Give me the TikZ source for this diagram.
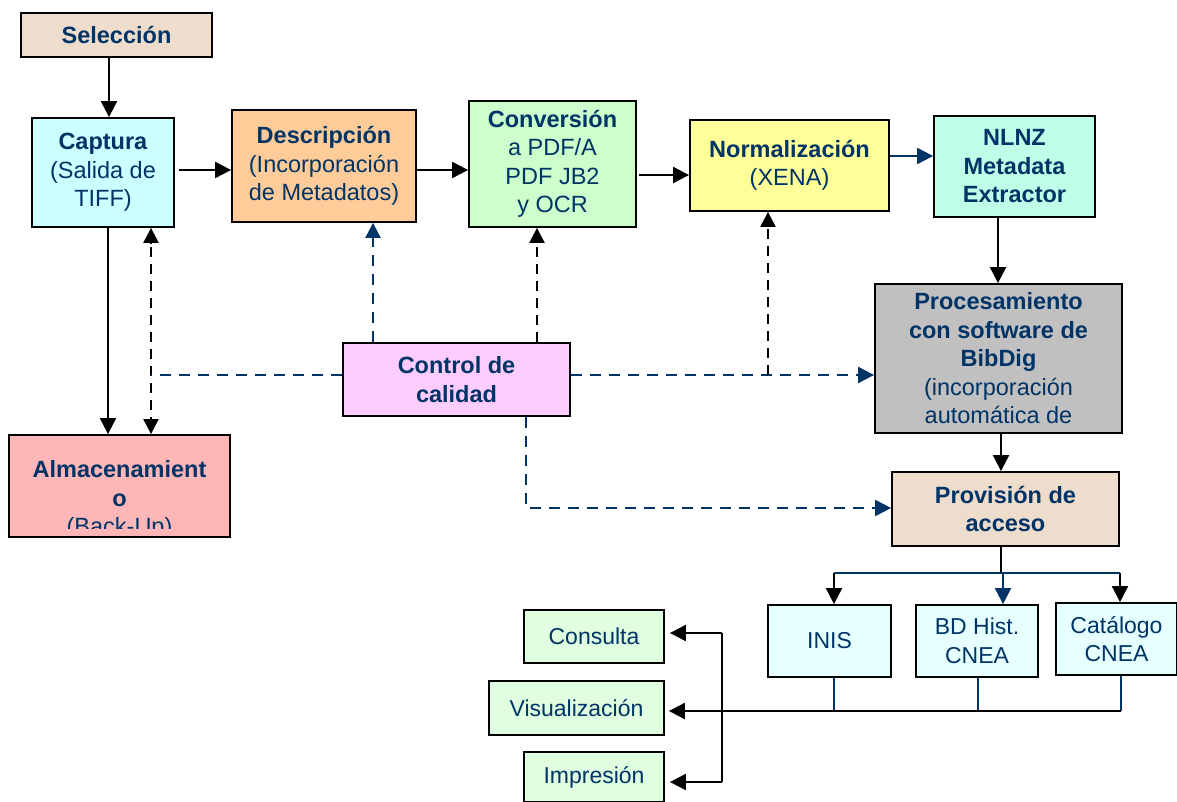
\documentclass[tikz,border=0pt]{standalone}
\usepackage{fontspec}
\setmainfont{Liberation Sans}
\usetikzlibrary{arrows.meta}
\definecolor{navy}{RGB}{0,51,102}
\definecolor{cSel}{RGB}{238,220,204}
\definecolor{cCapt}{RGB}{204,255,255}
\definecolor{cDesc}{RGB}{255,204,153}
\definecolor{cConv}{RGB}{204,255,204}
\definecolor{cNorm}{RGB}{255,255,153}
\definecolor{cNlnz}{RGB}{190,255,232}
\definecolor{cProc}{RGB}{192,192,192}
\definecolor{cCtrl}{RGB}{255,204,255}
\definecolor{cAlm}{RGB}{255,182,182}
\definecolor{cDb}{RGB}{230,255,255}
\definecolor{cOut}{RGB}{224,255,224}
\tikzset{
  box/.style={draw=black, line width=1.8pt, inner sep=0pt, align=center, text=navy,
    font=\fontsize{23.5}{28.5}\selectfont},
  smallbox/.style={box, font=\fontsize{23}{28.5}\selectfont},
  conn/.style={line width=2pt, -{Triangle[length=16pt,width=16pt]}},
  nconn/.style={conn, draw=navy, fill=navy},
  ndash/.style={line width=2pt, draw=navy, dash pattern=on 11pt off 8pt},
  kdash/.style={line width=2.2pt, draw=black, dash pattern=on 10pt off 7pt},
  thin/.style={line width=1.3pt, draw=navy},
  tip/.style={-{Triangle[length=15pt,width=15pt]}},
}
\begin{document}
\begin{tikzpicture}[x=1pt,y=-1pt]
\useasboundingbox (0,0) rectangle (1177,802);
\fill[white] (0,0) rectangle (1177,802);

% main boxes
\node[box, fill=cSel, minimum width=191pt, minimum height=44pt] (sel) at (116.5,35) {\textbf{Selección}};
\node[box, fill=cCapt, minimum width=142pt, minimum height=109pt] (capt) at (103,172.5) {\textbf{Captura}\\(Salida de\\TIFF)};
\node[box, fill=cDesc, minimum width=184pt, minimum height=112pt] (desc) at (324,166) {\textbf{Descripción}\\(Incorporación\\de Metadatos)};
\node[box, fill=cConv, minimum width=167pt, minimum height=126pt] (conv) at (552.5,164) {\textbf{Conversión}\\a PDF/A\\PDF JB2\\y OCR};
\node[box, fill=cNorm, minimum width=199pt, minimum height=91pt] (norm) at (789.5,165.5) {\textbf{Normalización}\\(XENA)};
\node[box, fill=cNlnz, minimum width=161pt, minimum height=101pt] (nlnz) at (1014.5,166.5) {\textbf{NLNZ}\\\textbf{Metadata}\\\textbf{Extractor}};
\node[box, fill=cProc, minimum width=247pt, minimum height=149pt] (proc) at (998.5,358.5) {\textbf{Procesamiento}\\\textbf{con software de}\\\textbf{BibDig}\\(incorporación\\automática de};
\node[box, fill=cCtrl, minimum width=227pt, minimum height=73pt] (ctrl) at (456.5,379.5) {\textbf{Control de}\\\textbf{calidad}};
\node[box, fill=cAlm, minimum width=221pt, minimum height=102pt] (alm) at (119.5,486) {};
\begin{scope}
  \clip (alm.north west) rectangle ([yshift=9pt]alm.south east);
  \node[box, draw=none, fill=none] (almtext) at (119.5,500) {\textbf{Almacenamient}\\\textbf{o}\\(Back-Up)};
\end{scope}
\node[box, fill=cSel, minimum width=227pt, minimum height=74pt] (prov) at (1005.5,509) {\textbf{Provisión de}\\\textbf{acceso}};

% outputs
\node[smallbox, fill=cDb, minimum width=123pt, minimum height=72pt] (inis) at (829.5,641) {INIS};
\node[smallbox, fill=cDb, minimum width=122pt, minimum height=72pt] (bdh) at (977,641) {BD Hist.\\CNEA};
\node[smallbox, fill=cDb, minimum width=121pt, minimum height=72pt] (cat) at (1116.5,639) {Catálogo\\CNEA};
\node[smallbox, fill=cOut, minimum width=140pt, minimum height=53pt] (cons) at (594,636.5) {Consulta};
\node[smallbox, fill=cOut, minimum width=175pt, minimum height=54pt] (vis) at (576.5,708) {Visualización};
\node[smallbox, fill=cOut, minimum width=140pt, minimum height=50pt] (imp) at (594,777) {Impresión};

% helper coordinates
\coordinate (x108) at (108,0);
\coordinate (x109) at (109,0);
\coordinate (x151) at (151,0);
\coordinate (x373) at (373,0);
\coordinate (x526) at (526,0);
\coordinate (x537) at (537,0);
\coordinate (x998) at (998,0);
\coordinate (x1001) at (1001,0);
\coordinate (y156) at (0,156);
\coordinate (y170) at (0,170);
\coordinate (y175) at (0,175);
\coordinate (y375) at (0,375);
\coordinate (y508) at (0,508);
\coordinate (j151) at (151,375);
\coordinate (j768) at (768,375);
\coordinate (busL) at (834,573);
\coordinate (busM) at (1003,573);
\coordinate (busR) at (1120,573);
\coordinate (provB) at (1001,573);
\coordinate (b834) at (834,711);
\coordinate (b978) at (978,711);
\coordinate (b1120) at (1121,711);
\coordinate (v1) at (722,633);
\coordinate (v2) at (722,782);

% main flow
\draw[conn] (sel.south -| x109) -- (capt.north -| x109);
\draw[conn] ([xshift=4pt]capt.east |- y170) -- (desc.west |- y170);
\draw[conn] (desc.east |- y170) -- (conv.west |- y170);
\draw[conn] ([xshift=2pt]conv.east |- y175) -- (norm.west |- y175);
\draw[nconn] (norm.east |- y156) -- (nlnz.west |- y156);
\draw[conn] (nlnz.south -| x998) -- (proc.north -| x998);
\draw[conn] (proc.south -| x1001) -- (prov.north -| x1001);
\draw[conn] (capt.south -| x108) -- (alm.north -| x108);

% quality control links
\draw[kdash, tip] ([yshift=-16pt]capt.south -| x151) -- (capt.south -| x151);
\draw[kdash, tip] ([yshift=-2pt]capt.south -| x151) -- (alm.north -| x151);
\draw[ndash] (ctrl.west |- y375) -- (j151);
\draw[ndash, -{Triangle[length=15pt,width=15pt]}, navy] (ctrl.north -| x373) -- (desc.south -| x373);
\draw[kdash, tip] (ctrl.north -| x537) -- (conv.south -| x537);
\draw[ndash, -{Triangle[length=16pt,width=16pt]}, navy] (ctrl.east |- y375) -- (proc.west |- y375);
\draw[kdash, tip] (j768) -- (norm.south -| j768);
\draw[ndash, -{Triangle[length=16pt,width=16pt]}, navy] (ctrl.south -| x526) |- (prov.west |- y508);

% distribution
\draw[line width=2pt] (prov.south -| provB) -- (provB);
\draw[line width=2pt, navy] (busL) -- (busR);
\draw[conn] (busL) -- (inis.north -| busL);
\draw[nconn] (busM) -- (bdh.north -| busM);
\draw[conn] (busR) -- (cat.north -| busR);
\draw[thin] (inis.south -| b834) -- (b834);
\draw[thin] (bdh.south -| b978) -- (b978);
\draw[thin] (cat.south -| b1120) -- (b1120);
\draw[conn] (b1120) -- ([xshift=4pt]vis.east |- b1120);
\draw[conn] (v1) -- ([xshift=5pt]cons.east |- v1);
\draw[line width=2pt] (v1) -- (v2);
\draw[conn] (v2) -- ([xshift=5pt]imp.east |- v2);
\end{tikzpicture}
\end{document}
